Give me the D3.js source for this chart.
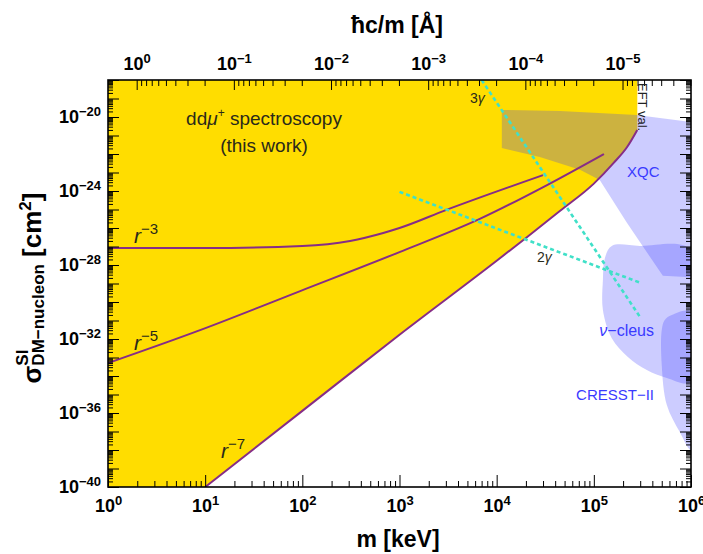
<!DOCTYPE html>
<html>
<head>
<meta charset="utf-8">
<script src="https://cdn.jsdelivr.net/npm/d3@7"></script>
<style>
  body { margin: 0; background: #fff; }
  svg text { font-family: "Liberation Sans", Arial, sans-serif; }
</style>
</head>
<body>
<svg id="chart" width="703" height="554"></svg>
<script>
const width = 703;
const height = 554;
const plot = { x0: 108, x1: 691, y0: 80, y1: 487 };

// m in keV, sigma in cm^2
const r7Line = [
  [10, 1e-40], [100, 1.3e-36], [1e3, 1.7e-32], [1e4, 1.7e-28],
  [2e4, 2.9e-27], [4.5e4, 8.5e-26], [1e5, 2.5e-24], [1.6e5, 3.3e-23],
  [2.2e5, 2.4e-22], [2.8e5, 2e-21],
];
const r5Line = [
  [1, 5e-34], [9, 3.1e-32], [95, 3.9e-30], [1e3, 5e-28], [6.7e3, 3.1e-26],
  [3.3e4, 2.1e-24], [1.27e5, 1e-22],
];
const r3Line = [
  [1, 8.3e-28], [10, 8.3e-28], [100, 1.07e-27], [310, 2e-27], [680, 5.4e-27],
  [1e3, 1e-26], [3e3, 9.3e-26], [3e4, 7.2e-24],
];
const gamma3 = [[7e3, 1e-18], [3e5, 1.5e-31]];
const gamma2 = [[1e3, 9e-25], [3e5, 1.1e-29]];

const xqcRegion = [
  [1.13e4, 2.4e-20], [4.47e4, 2.1e-20], [2.77e5, 1.3e-20], [4.77e5, 8.9e-21],
  [1e6, 5.4e-21], [1e6, 2.2e-29], [5.13e5, 2.6e-29], [2.19e5, 1.9e-26],
  [1.15e5, 3.9e-24], [7.2e4, 1.4e-23], [2.78e4, 6.9e-23], [1.13e4, 2.1e-22],
];
const nuCleusRegion = [
  [1.53e5, 1.07e-27], [2.97e5, 1.07e-27], [1e6, 6.5e-28], [1e6, 4.8e-35],
  [5.64e5, 7.8e-35], [3.51e5, 2.1e-34], [2.24e5, 1.07e-33], [1.53e5, 1.1e-32],
  [1.24e5, 3.7e-31], [1.24e5, 1.55e-29], [1.3e5, 2.4e-28],
];
const cresstRegion = [
  [6.34e5, 2e-31], [1e6, 2.9e-31], [1e6, 1e-38], [7.67e5, 9.3e-38],
  [5.64e5, 2.7e-36], [5e5, 3.9e-34], [5e5, 3.1e-32], [5.37e5, 1.07e-31],
];

const xTickExps = [0, 1, 2, 3, 4, 5, 6];
const yDecadeExps = d3.range(-40, -17);
const yLabelExps = [-40, -36, -32, -28, -24, -20];
const angTickExps = [0, -1, -2, -3, -4, -5];
const hbarc = 1.9733; // keV * Angstrom

const svg = d3.select("#chart");

const x = d3.scaleLog().domain([1, 1e6]).range([plot.x0, plot.x1]);
const y = d3.scaleLog().domain([1e-40, 1e-18]).range([plot.y1, plot.y0]);
const xAng = d3.scaleLog().domain([hbarc, hbarc / 1e6]).range([plot.x0, plot.x1]);

svg.append("defs").append("clipPath").attr("id", "clip")
  .append("rect")
  .attr("x", plot.x0).attr("y", plot.y0)
  .attr("width", plot.x1 - plot.x0).attr("height", plot.y1 - plot.y0);

const g = svg.append("g").attr("clip-path", "url(#clip)");

const line = d3.line().x((d) => x(d[0])).y((d) => y(d[1])).curve(d3.curveMonotoneX);

// excluded region (this work): everything above the r^-7 boundary
const edge = line(r7Line);
const last = r7Line[r7Line.length - 1];
const yellowPath =
  `M${x(1)},${y(1e-18)}L${x(1)},${y(1e-40)}L` + edge.slice(1) +
  `L${x(last[0])},${y(1e-18)}Z`;
g.append("path").attr("d", yellowPath).attr("fill", "#ffdd00");

// other experiments
const regionLine = d3.line().x((d) => x(d[0])).y((d) => y(d[1]));
g.append("path")
  .attr("d", regionLine.curve(d3.curveLinearClosed)(xqcRegion))
  .attr("fill", "rgba(51,51,255,0.25)");
[nuCleusRegion, cresstRegion].forEach((r) => {
  g.append("path")
    .attr("d", regionLine.curve(d3.curveCatmullRomClosed.alpha(0.5))(r))
    .attr("fill", "rgba(51,51,255,0.25)");
});

[r3Line, r5Line, r7Line].forEach((l) => {
  g.append("path").attr("d", line(l))
    .attr("fill", "none").attr("stroke", "#862d86").attr("stroke-width", 2);
});

[gamma3, gamma2].forEach((l) => {
  g.append("path").attr("d", line(l))
    .attr("fill", "none").attr("stroke", "#40e0c8")
    .attr("stroke-width", 2.6).attr("stroke-dasharray", "4,3");
});

// ---- axes ----
function minorVals(lo, hi) {
  const vals = [];
  for (let k = lo; k <= hi; k++) {
    for (let j = 2; j <= 9; j++) vals.push(j * Math.pow(10, k));
  }
  return vals;
}

function powerLabels(sel) {
  sel.selectAll(".tick text").each(function (d) {
    const t = d3.select(this);
    if (t.text() === "") return;
    const e = Math.round(Math.log10(d));
    t.text(null);
    t.append("tspan").text("10");
    t.append("tspan").attr("dy", "-0.55em").attr("font-size", "13px")
      .text(e < 0 ? "\u2212" + -e : e);
  });
}

function styleAxis(sel) {
  sel.select(".domain").remove();
  sel.selectAll(".tick line").attr("stroke", "#000");
  sel.selectAll(".tick text")
    .attr("fill", "#000").attr("font-size", "18px").attr("font-weight", "bold")
    .attr("font-family", "'Liberation Sans', Arial, sans-serif");
}

const xMinor = minorVals(0, 5);
const xMajor = xTickExps.map((e) => Math.pow(10, e));

svg.append("g").attr("transform", `translate(0,${plot.y1})`)
  .call(d3.axisBottom(x).tickValues(xMinor).tickSize(-6).tickFormat(""))
  .call(styleAxis);
svg.append("g").attr("transform", `translate(0,${plot.y1})`)
  .call(d3.axisBottom(x).tickValues(xMajor).tickSize(-12).tickPadding(12)
    .tickFormat((d) => "1"))
  .call(styleAxis).call(powerLabels);

const yMinor = minorVals(-40, -19);
const yMajor = yDecadeExps.map((e) => Math.pow(10, e));
const yFmt = (d) => (yLabelExps.includes(Math.round(Math.log10(d))) ? "1" : "");

svg.append("g").attr("transform", `translate(${plot.x0},0)`)
  .call(d3.axisLeft(y).tickValues(yMinor).tickSize(-5).tickFormat(""))
  .call(styleAxis);
svg.append("g").attr("transform", `translate(${plot.x0},0)`)
  .call(d3.axisLeft(y).tickValues(yMajor).tickSize(-11).tickPadding(7).tickFormat(yFmt))
  .call(styleAxis).call(powerLabels);

svg.append("g").attr("transform", `translate(${plot.x1},0)`)
  .call(d3.axisRight(y).tickValues(yMinor).tickSize(-5).tickFormat(""))
  .call(styleAxis);
svg.append("g").attr("transform", `translate(${plot.x1},0)`)
  .call(d3.axisRight(y).tickValues(yMajor).tickSize(-11).tickFormat(""))
  .call(styleAxis);

const angMinor = minorVals(-6, 0).filter((v) => v <= hbarc && v >= hbarc / 1e6);
const angMajor = angTickExps.map((e) => Math.pow(10, e));
svg.append("g").attr("transform", `translate(0,${plot.y0})`)
  .call(d3.axisTop(xAng).tickValues(angMinor).tickSize(-6).tickFormat(""))
  .call(styleAxis);
svg.append("g").attr("transform", `translate(0,${plot.y0})`)
  .call(d3.axisTop(xAng).tickValues(angMajor).tickSize(-10).tickPadding(10)
    .tickFormat((d) => "1"))
  .call(styleAxis).call(powerLabels);

svg.append("rect")
  .attr("x", plot.x0).attr("y", plot.y0)
  .attr("width", plot.x1 - plot.x0).attr("height", plot.y1 - plot.y0)
  .attr("fill", "none").attr("stroke", "#000").attr("stroke-width", 1.6);

// ---- axis titles ----
svg.append("text").attr("x", 398).attr("y", 547).attr("text-anchor", "middle")
  .attr("font-size", "23px").attr("font-weight", "bold").text("m [keV]");
svg.append("text").attr("x", 397).attr("y", 33).attr("text-anchor", "middle")
  .attr("font-size", "23px").attr("font-weight", "bold").text("\u0127c/m [\u00c5]");

const yt = svg.append("text")
  .attr("transform", "translate(41,288) rotate(-90)")
  .attr("text-anchor", "middle").attr("font-size", "26px").attr("font-weight", "bold");
yt.append("tspan").text("\u03c3");
yt.append("tspan").attr("font-size", "17px").attr("dy", -13).text("SI");
yt.append("tspan").attr("font-size", "17px").attr("dx", -16).attr("dy", 16).text("DM\u2212nucleon");
yt.append("tspan").attr("dy", -3).text(" [cm");
yt.append("tspan").attr("font-size", "17px").attr("dy", -10).text("2");
yt.append("tspan").attr("dy", 10).text("]");

// ---- annotations ----
const ann = svg.append("g").attr("fill", "#2a2a1a");
const t1 = ann.append("text").attr("x", 264).attr("y", 125).attr("text-anchor", "middle").attr("font-size", "19px");
t1.append("tspan").text("dd");
t1.append("tspan").attr("font-style", "italic").text("\u03bc");
t1.append("tspan").attr("font-size", "12px").attr("dy", -8).text("+");
t1.append("tspan").attr("dy", 8).text(" spectroscopy");
ann.append("text").attr("x", 264).attr("y", 152).attr("text-anchor", "middle")
  .attr("font-size", "19px").text("(this work)");

function rLabel(px, py, exp) {
  const t = ann.append("text").attr("x", px).attr("y", py).attr("font-size", "21px");
  t.append("tspan").attr("font-style", "italic").text("r");
  t.append("tspan").attr("font-size", "15px").attr("dy", -9).text("\u2212" + exp);
}
rLabel(134, 243, 3);
rLabel(134, 350, 5);
rLabel(221, 458, 7);

const g3 = ann.append("text").attr("x", 470).attr("y", 103).attr("font-size", "14px");
g3.append("tspan").text("3");
g3.append("tspan").attr("font-style", "italic").text("\u03b3");
const g2 = ann.append("text").attr("x", 537).attr("y", 262).attr("font-size", "14px");
g2.append("tspan").text("2");
g2.append("tspan").attr("font-style", "italic").text("\u03b3");

ann.append("text").attr("transform", "translate(638,83) rotate(90)")
  .attr("font-size", "13px").attr("fill", "#222").text("EFT val.");

const blue = svg.append("g").attr("fill", "#3a3aff");
blue.append("text").attr("x", 627).attr("y", 177).attr("font-size", "15px").text("XQC");
const nu = blue.append("text").attr("x", 654).attr("y", 336).attr("text-anchor", "end").attr("font-size", "16px");
nu.append("tspan").attr("font-style", "italic").text("\u03bd");
nu.append("tspan").text("\u2212cleus");
blue.append("text").attr("x", 654).attr("y", 400).attr("text-anchor", "end")
  .attr("font-size", "15px").text("CRESST\u2212II");
</script>
</body>
</html>
